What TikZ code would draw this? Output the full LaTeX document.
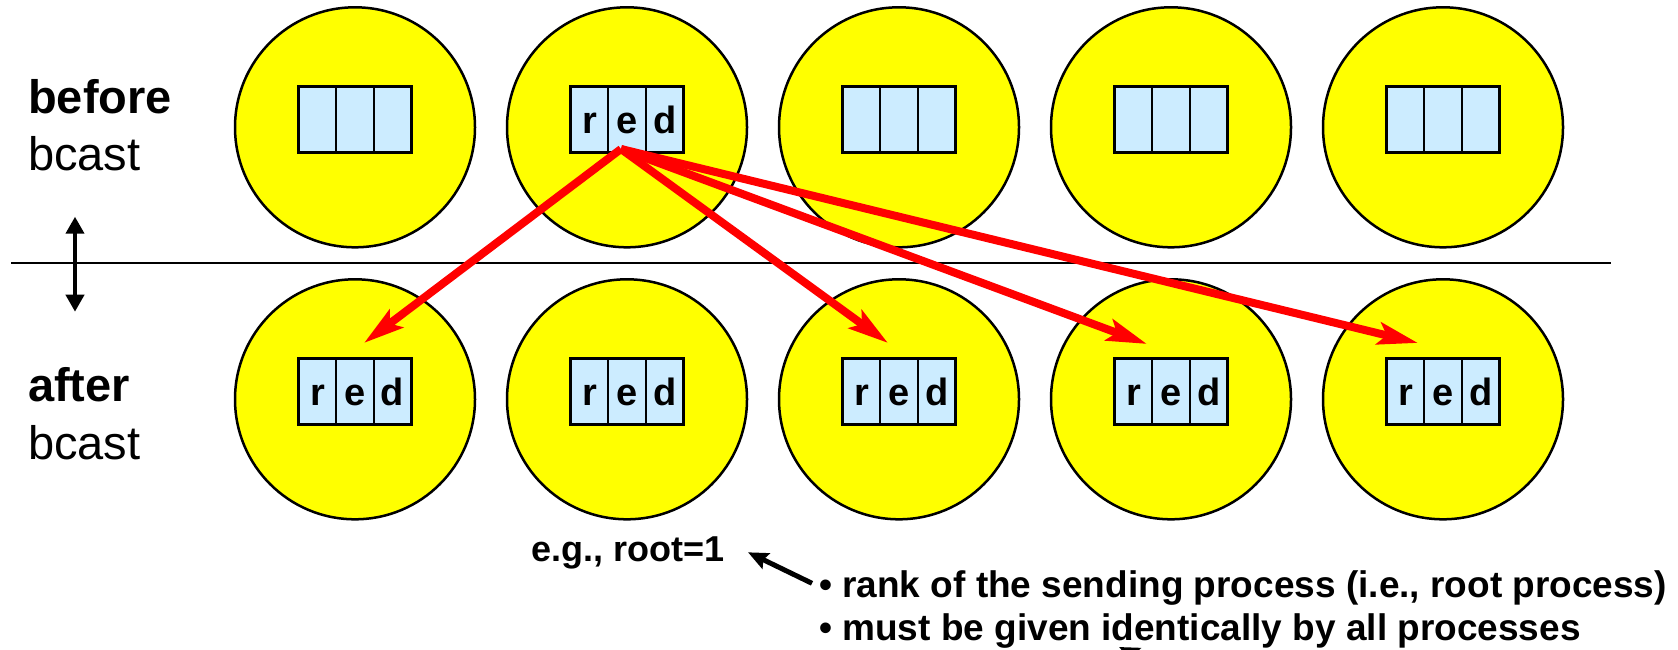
\documentclass[tikz,border=0pt]{standalone}
\usepackage{fontspec}
\setmainfont{Liberation Sans}
\usetikzlibrary{arrows.meta}
\definecolor{procyellow}{RGB}{255,255,0}
\definecolor{bufblue}{RGB}{204,236,255}
\definecolor{arrred}{RGB}{255,0,0}
\begin{document}
\begin{tikzpicture}[x=1pt,y=-1pt,
  proc/.style={circle,draw=black,line width=2.5pt,fill=procyellow,minimum size=240pt,inner sep=0pt},
  buf/.style={rectangle,draw=black,line width=2.5pt,fill=bufblue,minimum width=113pt,minimum height=66pt,inner sep=0pt},
  bufline/.style={line width=2.5pt},
  ltr/.style={anchor=base,font=\fontsize{38}{44}\selectfont\bfseries,inner sep=0pt},
  bigbold/.style={anchor=base west,inner sep=0pt,font=\fontsize{47}{56}\selectfont\bfseries},
  bigreg/.style={anchor=base west,inner sep=0pt,font=\fontsize{47}{56}\selectfont},
  note/.style={anchor=base west,inner sep=0pt,font=\fontsize{37}{43}\selectfont\bfseries},
  bcastarrow/.style={draw=arrred,line width=8pt,-{Stealth[length=40pt,width=22pt,inset=8pt]}},
  blkarrow/.style={draw=black,line width=5pt,-{Stealth[length=20pt,width=17pt,inset=3pt]}},
  dblarrow/.style={draw=black,line width=4pt,{Triangle[length=17pt,width=18pt]}-{Triangle[length=17pt,width=18pt]}}
]
\clip (0,0) rectangle (1678,650);
\useasboundingbox (0,0) rectangle (1678,650);

% process circles and buffers
\foreach \i/\x in {1/355,2/627,3/899,4/1171,5/1443}{
  \node[proc] (tc\i) at (\x,127.3) {};
  \node[buf] (tb\i) at (\x,119.5) {};
  \draw[bufline] ([xshift=-18.8pt]tb\i.north) -- ([xshift=-18.8pt]tb\i.south);
  \draw[bufline] ([xshift=18.8pt]tb\i.north) -- ([xshift=18.8pt]tb\i.south);
  \node[proc] (bc\i) at (\x,399.3) {};
  \node[buf] (bb\i) at (\x,391.7) {};
  \draw[bufline] ([xshift=-18.8pt]bb\i.north) -- ([xshift=-18.8pt]bb\i.south);
  \draw[bufline] ([xshift=18.8pt]bb\i.north) -- ([xshift=18.8pt]bb\i.south);
  \node[ltr] (br\i) at (\x-37.6,405.5) {r};
  \node[ltr] (be\i) at (\x,405.5) {e};
  \node[ltr] (bd\i) at (\x+37.6,405.5) {d};
}
\node[ltr] (tr2) at (627-37.6,133.3) {r};
\node[ltr] (te2) at (627,133.3) {e};
\node[ltr] (td2) at (627+37.6,133.3) {d};

% separator line and double arrow
\coordinate (sepL) at (11,263.3);
\coordinate (sepR) at (1611,263.3);
\draw[line width=2pt] (sepL) -- (sepR);
\coordinate (dA) at (75,216.7);
\coordinate (dB) at (75,311.7);
\draw[dblarrow] (dA) -- (dB);

% labels
\node[bigbold] (before) at (28,113.3) {before};
\node[bigreg] (bc1lbl) at (28,170) {bcast};
\node[bigbold] (after) at (28,401.7) {after};
\node[bigreg] (bc2lbl) at (28,459) {bcast};

% broadcast arrows
\coordinate (src) at (621,149);
\coordinate (d1) at (364,343);
\coordinate (d3) at (888,343);
\coordinate (d4) at (1147,344);
\coordinate (d5) at (1418,343);
\draw[bcastarrow] (src) -- (d1);
\draw[bcastarrow] (src) -- (d3);
\draw[bcastarrow] (src) -- (d4);
\draw[bcastarrow] (src) -- (d5);

% notes
\node[note,font=\fontsize{36}{42}\selectfont\bfseries] (eg) at (531,561.7) {e.g., root=1};
\node[note] (rank) at (819,597) {• rank of the sending process (i.e., root process)};
\node[note] (must) at (819,640) {• must be given identically by all processes};
\coordinate (a1) at (812,583.3);
\coordinate (a2) at (748,552.3);
\draw[blkarrow] (a1) -- (a2);
\coordinate (a3) at (1183,678);
\coordinate (a4) at (1119,647);
\draw[blkarrow] (a3) -- (a4);
\end{tikzpicture}
\end{document}
